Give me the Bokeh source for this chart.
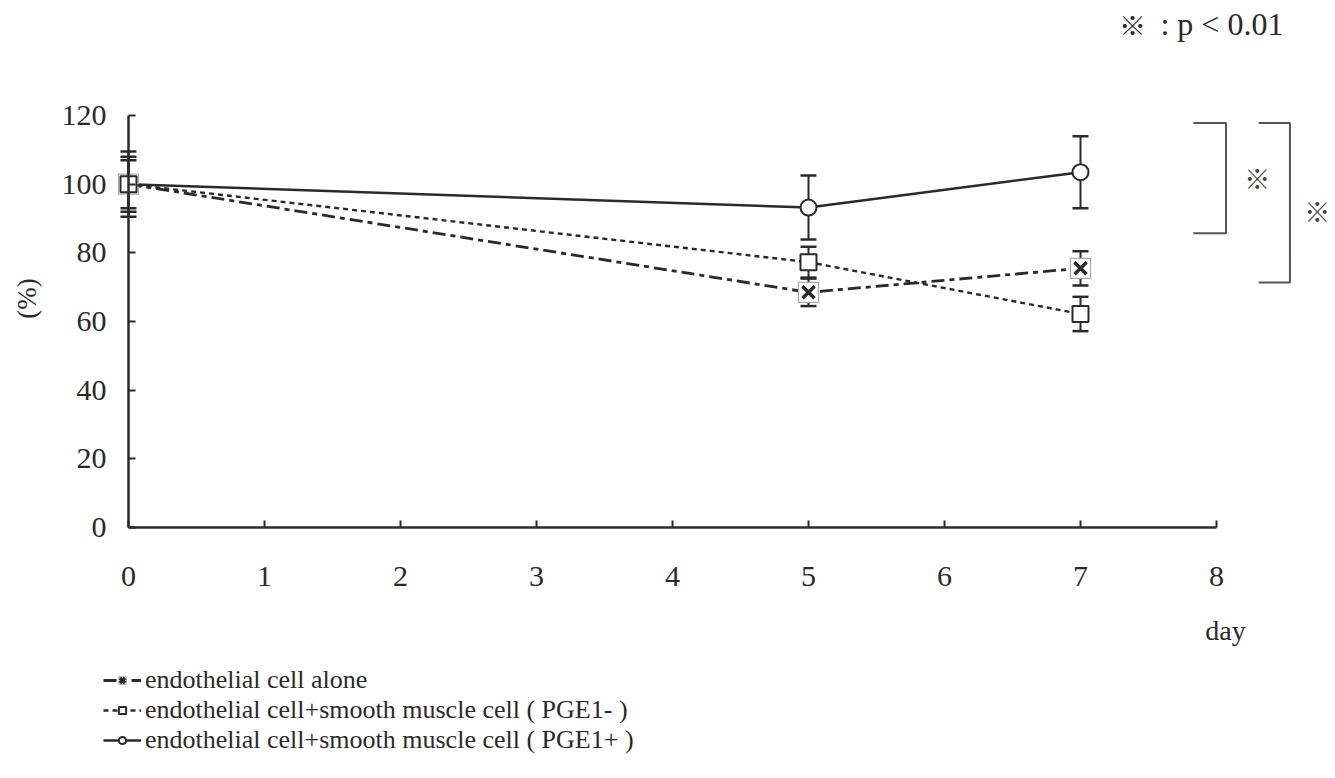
from bokeh.plotting import figure
from bokeh.models import (Range1d, Whisker, TeeHead, ColumnDataSource, Legend,
                          LegendItem, Label, FixedTicker)
from bokeh.embed import file_html
from bokeh.resources import INLINE

# ---------------- data ----------------
days = [0, 5, 7]
alone = [100, 68.5, 75.5]
alone_err = [7, 4, 5]
pge_minus = [100, 77.3, 62.2]
pge_minus_err = [8, 4.5, 5]
pge_plus = [100, 93.2, 103.5]
pge_plus_err = [9.5, 9.3, 10.5]

x_ticks = [0, 1, 2, 3, 4, 5, 6, 7, 8]
y_ticks = [0, 20, 40, 60, 80, 100, 120]

legend_labels = [
    "endothelial cell alone",
    "endothelial cell+smooth muscle cell ( PGE1- )",
    "endothelial cell+smooth muscle cell ( PGE1+ )",
]

# significance brackets: (x of vertical, x of arm end, y top, y bottom)
brackets = [(8.07, 7.83, 117.8, 85.7), (8.54, 8.31, 117.8, 71.4)]
bracket_marks = [(8.30, 101.9), (8.74, 92.3)]

SERIF = "Liberation Serif"
INK = "#2a2a2a"

W, H = 1335, 778
p = figure(width=W, height=H, x_range=Range1d(-0.9412, 8.875), y_range=Range1d(-73.11, 153.51),
           output_backend="svg", toolbar_location=None,
           min_border_left=0, min_border_right=0, min_border_top=0, min_border_bottom=0)
p.outline_line_color = None
p.xgrid.grid_line_color = None
p.ygrid.grid_line_color = None
p.background_fill_color = "white"
p.border_fill_color = "white"

p.xaxis.fixed_location = 0
p.yaxis.fixed_location = 0

for ax in (p.xaxis[0], p.yaxis[0]):
    ax.axis_line_width = 2.5
    ax.axis_line_color = INK
    ax.major_tick_line_color = INK
    ax.major_tick_line_width = 2
    ax.major_tick_in = 7
    ax.major_tick_out = 0
    ax.minor_tick_line_color = None
    ax.major_label_text_font = SERIF
    ax.major_label_text_font_size = "30px"
    ax.major_label_text_color = INK

p.xaxis.bounds = (0, 8)
p.yaxis.bounds = (0, 120)
p.xaxis.ticker = FixedTicker(ticks=x_ticks)
p.yaxis.ticker = FixedTicker(ticks=y_ticks)
p.xaxis.major_label_standoff = 39
p.yaxis.major_label_standoff = 22

# ---------------- error bars ----------------
def whisker(y, err):
    src = ColumnDataSource(dict(x=days, lo=[a - b for a, b in zip(y, err)],
                                hi=[a + b for a, b in zip(y, err)]))
    w = Whisker(source=src, base="x", lower="lo", upper="hi", line_color=INK, line_width=2,
                upper_head=TeeHead(size=16, line_width=2.5, line_color=INK),
                lower_head=TeeHead(size=16, line_width=2.5, line_color=INK))
    p.add_layout(w)

whisker(pge_plus, pge_plus_err)
whisker(alone, alone_err)
whisker(pge_minus, pge_minus_err)

# ---------------- series ----------------
l3 = p.line(days, pge_plus, line_color=INK, line_width=2.5)
m3 = p.scatter(days, pge_plus, marker="circle", size=16, fill_color="white",
               line_color=INK, line_width=2)

l1 = p.line(days, alone, line_color=INK, line_width=2.8, line_dash="13 5 5 5")
m1a = p.scatter(days, alone, marker="square", size=20, fill_color="white",
                line_color="#aaaaaa", line_width=1.2)
m1b = p.scatter(days, alone, marker="x", size=17, line_color=INK, line_width=3.5)

l2 = p.line(days, pge_minus, line_color=INK, line_width=2.4, line_dash="5 4")
m2 = p.scatter(days, pge_minus, marker="square", size=16, fill_color="white",
               line_color=INK, line_width=2)

# one legend per row so the rows can sit as tightly as in the original
legend_rows = [(legend_labels[0], [l1, m1a, m1b], 83),
               (legend_labels[1], [l2, m2], 53),
               (legend_labels[2], [l3, m3], 23)]
for lab, rends, ypos in legend_rows:
    lg = Legend(items=[LegendItem(label=lab, renderers=rends)],
                location=(103, ypos), orientation="vertical",
                label_text_font=SERIF, label_text_font_size="26px", label_text_color=INK,
                glyph_width=38, glyph_height=18, label_height=18, spacing=0,
                label_standoff=4, padding=0, margin=0,
                border_line_alpha=0, background_fill_alpha=0)
    p.add_layout(lg)

# ---------------- brackets & labels ----------------
for xv, xa, yt, yb in brackets:
    p.line([xa, xv, xv, xa], [yt, yt, yb, yb], line_color="#555555", line_width=2)
for xm, ym in bracket_marks:
    p.add_layout(Label(x=xm, y=ym, text="\u203b", text_font="Noto Sans CJK JP",
                       text_font_size="26px", text_color="#444444",
                       text_align="center", text_baseline="middle"))

p.add_layout(Label(x=7.382, y=146.6, text="\u203b", text_font="Noto Sans CJK JP",
                   text_font_size="27px", text_color=INK, text_align="center",
                   text_baseline="middle"))
p.add_layout(Label(x=7.588, y=146.6, text=": p <  0.01", text_font=SERIF,
                   text_font_size="32px", text_color=INK, text_align="left",
                   text_baseline="middle"))

p.add_layout(Label(x=8.066, y=-30, text="day", text_font=SERIF, text_font_size="28px",
                   text_color=INK, text_align="center", text_baseline="middle"))
p.add_layout(Label(x=-0.743, y=66.7, text="(%)", text_font=SERIF, text_font_size="27px",
                   text_color=INK, text_align="center", text_baseline="middle",
                   angle=1.5708))

open("out.html", "w").write(file_html(p, INLINE))
